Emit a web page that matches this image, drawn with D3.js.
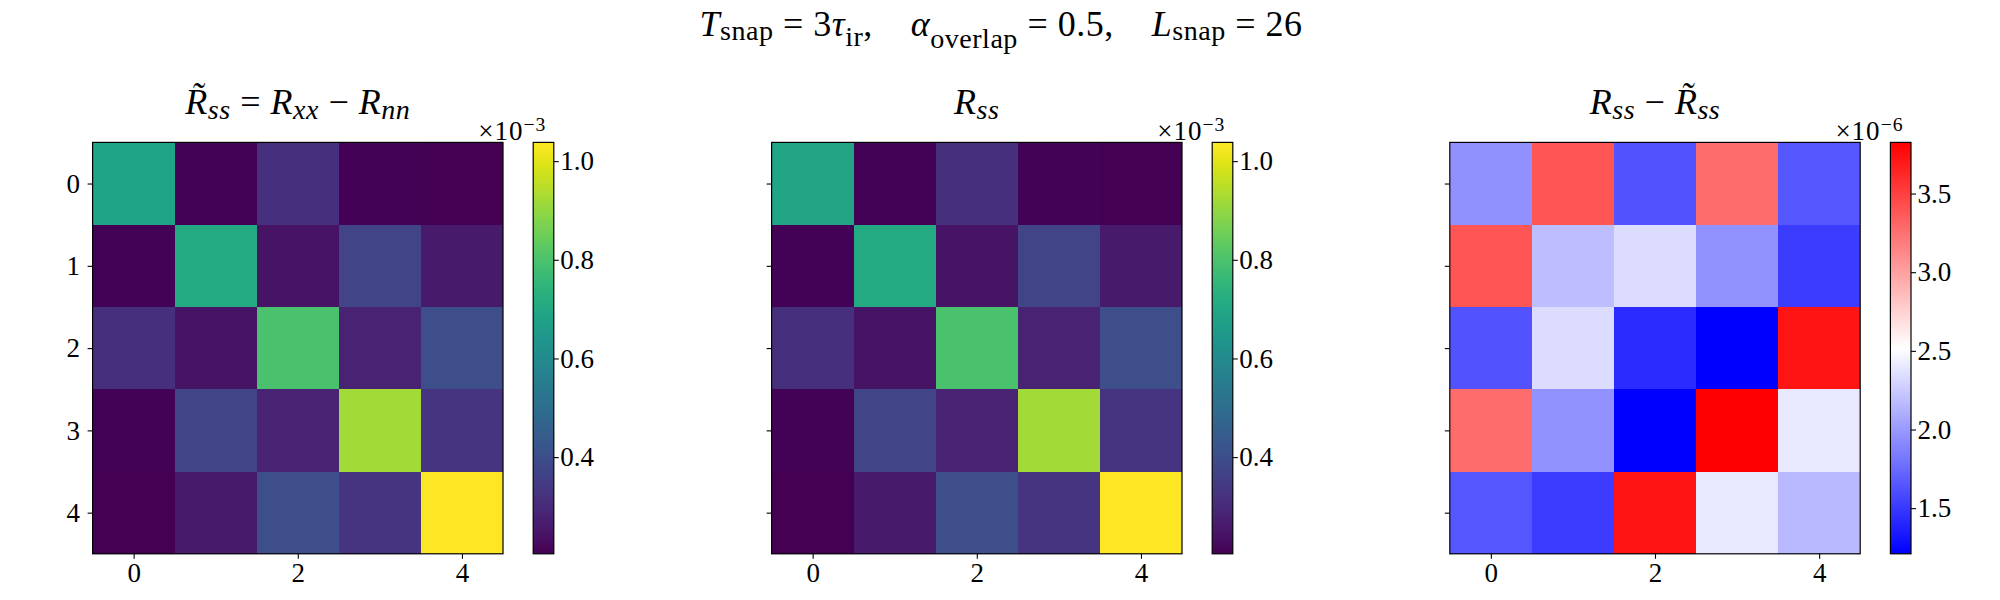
<!DOCTYPE html>
<html>
<head>
<meta charset="utf-8">
<script src="https://d3js.org/d3.v7.min.js"></script>
<style>
	html, body { margin: 0; padding: 0; background: #fff; }
	text { font-family: "Liberation Serif", serif; fill: #000; white-space: pre; }
</style>
</head>
<body>
<div id="chart"></div>
<script>
var indices = [0, 1, 2, 3, 4];
var xTickValues = [0, 2, 4];
var yTickValues = [0, 1, 2, 3, 4];

// values, in units of the colorbar offset
var approxMatrix = [
	[0.692, 0.208, 0.320, 0.208, 0.204],
	[0.208, 0.709, 0.246, 0.372, 0.262],
	[0.320, 0.246, 0.798, 0.285, 0.402],
	[0.208, 0.372, 0.285, 0.921, 0.328],
	[0.204, 0.262, 0.402, 0.328, 1.038]
];
var exactMatrix = [
	[0.693, 0.208, 0.320, 0.208, 0.204],
	[0.208, 0.710, 0.246, 0.372, 0.262],
	[0.320, 0.246, 0.800, 0.285, 0.402],
	[0.208, 0.372, 0.285, 0.923, 0.328],
	[0.204, 0.262, 0.402, 0.328, 1.038]
];
var diffMatrix = [
	[1.95, 3.39, 1.63, 3.27, 1.65],
	[3.39, 2.18, 2.34, 1.96, 1.52],
	[1.63, 2.34, 1.43, 1.21, 3.72],
	[3.27, 1.96, 1.21, 3.825, 2.40],
	[1.65, 1.52, 3.72, 2.40, 2.16]
];

var viridisDomain = [0.204, 1.038];
var viridisTicks = [0.4, 0.6, 0.8, 1.0];
var bwrDomain = [1.21, 3.825];
var bwrTicks = [1.5, 2.0, 2.5, 3.0, 3.5];

var width = 2000, height = 600;
var plotTop = 142.4, plotBottom = 553.8;
var tickFont = 27;

var svg = d3.select("#chart")
	.append("svg")
	.attr("width", width)
	.attr("height", height)
	.style("display", "block");

var bwr = d3.scaleLinear()
	.domain([0, 0.5, 1])
	.range(["#0000ff", "#ffffff", "#ff0000"]);

// writes text made of plain, italic, subscript and superscript pieces
function richText(parent, x, y, size, anchor, spacing, parts) {
	var text = parent.append("text")
		.attr("x", x)
		.attr("y", y)
		.attr("text-anchor", anchor)
		.style("font-size", size + "px")
		.style("letter-spacing", spacing + "px");
	var shift = 0;
	parts.forEach(function(part) {
		var offset = part.drop || 0;
		text.append("tspan")
			.attr("dy", offset - shift)
			.style("font-style", part.it ? "italic" : "normal")
			.style("font-size", (part.small ? size * part.small : size) + "px")
			.text(part.t);
		shift = offset;
	});
	return text;
}

function styleAxis(axis) {
	axis.select(".domain").remove();
	axis.selectAll("line").attr("stroke-width", 1.1);
	axis.selectAll("text")
		.style("font-family", "'Liberation Serif', serif")
		.style("font-size", tickFont + "px");
}

function drawPanel(p) {
	var g = svg.append("g");

	var x = d3.scaleBand().domain(indices).range([p.left, p.left + 410.4]);
	var y = d3.scaleBand().domain(indices).range([plotTop, plotBottom]);
	var norm = d3.scaleLinear().domain(p.domain).range([0, 1]);

	// draw the cells
	p.matrix.forEach(function(row, rowIndex) {
		g.selectAll("rect.cell-" + rowIndex)
			.data(row)
			.enter()
				.append("rect")
				.attr("class", "cell-" + rowIndex)
				.attr("x", function(d, i) { return x(i); })
				.attr("y", y(rowIndex))
				.attr("width", x.bandwidth())
				.attr("height", y.bandwidth())
				.attr("fill", function(d) { return p.colors(norm(d)); })
				.attr("shape-rendering", "crispEdges");
	});

	g.append("rect")
		.attr("x", p.left)
		.attr("y", plotTop)
		.attr("width", 410.4)
		.attr("height", plotBottom - plotTop)
		.attr("fill", "none")
		.attr("stroke", "#000")
		.attr("stroke-width", 1.2);

	// axes, using point scales so ticks land in the cell centres
	var xCenter = d3.scalePoint().domain(indices).range([x(0) + x.bandwidth() / 2, x(4) + x.bandwidth() / 2]);
	var yCenter = d3.scalePoint().domain(indices).range([y(0) + y.bandwidth() / 2, y(4) + y.bandwidth() / 2]);

	var xAxis = g.append("g")
		.attr("transform", "translate(0," + plotBottom + ")")
		.call(d3.axisBottom(xCenter).tickValues(xTickValues).tickSize(5).tickPadding(4));
	var yAxis = g.append("g")
		.attr("transform", "translate(" + p.left + ",0)")
		.call(d3.axisLeft(yCenter).tickValues(yTickValues).tickSize(5).tickPadding(7.6)
			.tickFormat(p.showY ? null : ""));
	styleAxis(xAxis);
	styleAxis(yAxis);

	// colorbar
	var barLeft = p.left + 440.6, barWidth = 20.6;
	var gradientId = "bar-" + p.id;
	var gradient = svg.append("defs")
		.append("linearGradient")
		.attr("id", gradientId)
		.attr("x1", 0).attr("y1", 1).attr("x2", 0).attr("y2", 0);
	gradient.selectAll("stop")
		.data(d3.range(0, 1.0001, 1 / 64))
		.enter()
			.append("stop")
			.attr("offset", function(d) { return d; })
			.attr("stop-color", function(d) { return p.colors(d); });

	g.append("rect")
		.attr("x", barLeft)
		.attr("y", plotTop)
		.attr("width", barWidth)
		.attr("height", plotBottom - plotTop)
		.attr("fill", "url(#" + gradientId + ")")
		.attr("stroke", "#000")
		.attr("stroke-width", 1.2);

	var barScale = d3.scaleLinear().domain(p.domain).range([plotBottom, plotTop]);
	var barAxis = g.append("g")
		.attr("transform", "translate(" + (barLeft + barWidth) + ",0)")
		.call(d3.axisRight(barScale).tickValues(p.ticks).tickSize(5).tickPadding(1.5)
			.tickFormat(d3.format(".1f")));
	styleAxis(barAxis);

	// offset label above the colorbar
	richText(g, barLeft - 55, 140, 27, "start", 1, [
		{ t: "\u00d710" },
		{ t: "\u2212" + p.exponent, small: 0.73, drop: -9.5 }
	]);

	// panel title
	richText(g, p.left + 205.2, 114, 36, "middle", 0.5, p.title);
}

drawPanel({
	id: "approx",
	left: 92.6,
	matrix: approxMatrix,
	domain: viridisDomain,
	ticks: viridisTicks,
	colors: d3.interpolateViridis,
	exponent: "3",
	showY: true,
	title: [
		{ t: "R\u0303", it: true }, { t: "ss", it: true, small: 0.78, drop: 5 },
		{ t: " = " },
		{ t: "R", it: true }, { t: "xx", it: true, small: 0.78, drop: 5 },
		{ t: " \u2212 " },
		{ t: "R", it: true }, { t: "nn", it: true, small: 0.78, drop: 5 }
	]
});

drawPanel({
	id: "exact",
	left: 771.6,
	matrix: exactMatrix,
	domain: viridisDomain,
	ticks: viridisTicks,
	colors: d3.interpolateViridis,
	exponent: "3",
	showY: false,
	title: [
		{ t: "R", it: true }, { t: "ss", it: true, small: 0.78, drop: 5 }
	]
});

drawPanel({
	id: "diff",
	left: 1449.8,
	matrix: diffMatrix,
	domain: bwrDomain,
	ticks: bwrTicks,
	colors: bwr,
	exponent: "6",
	showY: false,
	title: [
		{ t: "R", it: true }, { t: "ss", it: true, small: 0.78, drop: 5 },
		{ t: " \u2212 " },
		{ t: "R\u0303", it: true }, { t: "ss", it: true, small: 0.78, drop: 5 }
	]
});

// figure title
richText(svg, 1001, 35.7, 36, "middle", 0.5, [
	{ t: "T", it: true }, { t: "snap", small: 0.78, drop: 4.5 },
	{ t: " = 3" },
	{ t: "\u03c4", it: true }, { t: "ir", small: 0.78, drop: 10 },
	{ t: ",    " },
	{ t: "\u03b1", it: true }, { t: "overlap", small: 0.78, drop: 12 },
	{ t: " = 0.5,    " },
	{ t: "L", it: true }, { t: "snap", small: 0.78, drop: 4.5 },
	{ t: " = 26" }
]);
</script>
</body>
</html>
